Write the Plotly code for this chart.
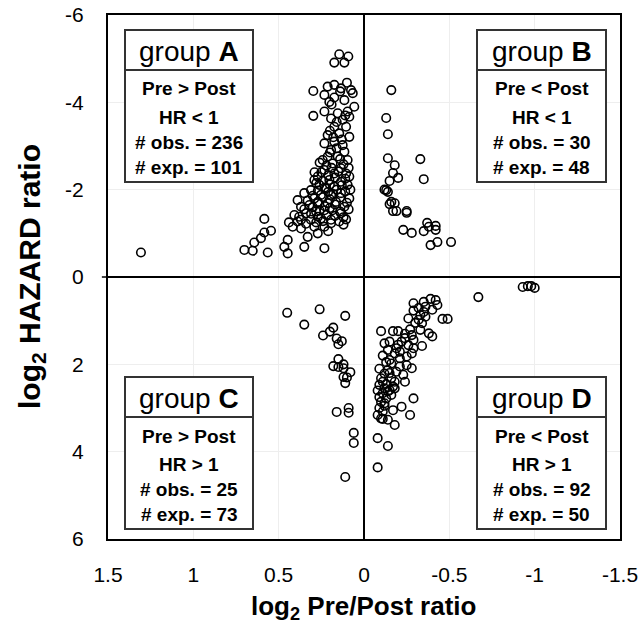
import plotly.graph_objects as go

# ---------------- data (log2 Pre/Post ratio, log2 HAZARD ratio) ----------------
a_x = [0.145, 0.092, 0.174, 0.115, 0.297, 0.213, 0.174, 0.135, 0.076, 0.232, 0.174, 0.115,
       0.066, 0.057, 0.203, 0.096, 0.154, 0.193, 0.125, 0.086, 0.297, 0.232, 0.174, 0.105,
       0.145, 0.213, 0.086, 0.232, 0.174, 0.125, 0.193, 0.115, 0.213, 0.154, 0.096, 0.242,
       0.184, 0.135, 0.105, 0.232, 0.174, 0.086, 0.271, 0.203, 0.135, 0.096, 0.262, 0.291,
       0.174, 0.223, 0.311, 0.350, 0.252, 0.193, 0.135, 0.086, 0.291, 0.389, 0.369, 0.320,
       0.271, 0.213, 0.164, 0.115, 0.340, 0.281, 0.232, 0.184, 0.135, 0.408, 0.369, 0.311,
       0.252, 0.193, 0.145, 0.105, 0.418, 0.369, 0.291, 0.232, 0.193, 0.330, 0.271, 0.447,
       0.467, 0.350, 0.232, 0.447, 0.389,
       0.584, 0.545, 0.584, 0.604, 0.643, 0.701, 0.652, 0.564, 1.307,
       0.16, 0.20, 0.14, 0.22, 0.12, 0.19, 0.25, 0.15, 0.21, 0.11, 0.17, 0.24, 0.28, 0.13,
       0.20, 0.23, 0.16, 0.27, 0.11, 0.21, 0.18, 0.30, 0.24, 0.14, 0.20, 0.33, 0.27, 0.10,
       0.17, 0.23, 0.30, 0.35, 0.20, 0.26, 0.14, 0.31, 0.22, 0.38, 0.17, 0.27, 0.12, 0.34,
       0.24, 0.44, 0.21, 0.18, 0.13, 0.20, 0.16, 0.11, 0.19, 0.14, 0.10, 0.26, 0.29, 0.09,
       0.09, 0.08, 0.12, 0.28]
a_y = [-5.10, -5.05, -4.91, -4.91, -4.26, -4.36, -4.40, -4.32, -4.28, -4.17, -4.11, -4.05,
       -4.21, -3.90, -4.01, -3.79, -3.75, -3.63, -3.60, -3.67, -3.69, -3.79, -3.44, -3.44,
       -3.29, -3.25, -3.21, -3.06, -3.10, -3.02, -2.91, -2.87, -2.76, -2.76, -2.68, -2.68,
       -2.60, -2.49, -2.37, -2.45, -2.37, -2.30, -2.30, -2.22, -2.18, -2.11, -2.11, -2.22,
       -2.07, -2.03, -1.99, -1.92, -1.88, -1.88, -1.92, -1.80, -1.80, -1.76, -1.61, -1.65,
       -1.69, -1.69, -1.72, -1.61, -1.46, -1.50, -1.53, -1.53, -1.46, -1.42, -1.31, -1.31,
       -1.34, -1.31, -1.27, -1.32, -1.15, -1.11, -1.15, -1.15, -1.23, -0.92, -1.00, -0.85,
       -0.69, -0.69, -0.66, -0.54, -1.27,
       -1.33, -1.06, -1.02, -0.89, -0.79, -0.62, -0.60, -0.56, -0.56,
       -2.95, -2.85, -2.70, -2.55, -2.58, -2.50, -2.40, -2.42, -2.33, -2.25, -2.28, -2.20,
       -2.15, -2.10, -2.12, -2.05, -2.00, -1.98, -1.96, -1.95, -1.90, -1.86, -1.83, -1.82,
       -1.78, -1.75, -1.72, -1.70, -1.66, -1.62, -1.60, -1.55, -1.58, -1.52, -1.50, -1.45,
       -1.42, -1.38, -1.40, -1.38, -1.37, -1.22, -1.28, -1.25, -1.05, -3.20, -3.15, -3.35,
       -3.55, -3.70, -3.95, -4.25, -4.45, -2.62, -2.40, -2.50, -1.55, -2.00, -1.20, -1.25]

b_x = [-0.16, -0.13, -0.14, -0.14, -0.18, -0.33, -0.17, -0.20, -0.15, -0.35, -0.13, -0.14,
       -0.16, -0.15, -0.18, -0.17, -0.19, -0.25, -0.25, -0.23, -0.28, -0.35, -0.37, -0.42,
       -0.42, -0.38, -0.39, -0.43, -0.51, -0.12]
b_y = [-4.28, -3.64, -3.27, -2.72, -2.56, -2.70, -2.38, -2.27, -2.20, -2.24, -1.99, -1.95,
       -1.72, -1.67, -1.69, -1.51, -1.51, -1.51, -1.47, -1.08, -1.01, -1.05, -1.24, -1.17,
       -1.08, -1.15, -0.73, -0.80, -0.80, -2.00]

c_x = [0.45, 0.26, 0.11, 0.35, 0.18, 0.20, 0.24, 0.16, 0.13, 0.15, 0.15, 0.18, 0.15, 0.12,
       0.08, 0.12, 0.11, 0.16, 0.09, 0.09, 0.06, 0.06, 0.11, 0.12, 0.10]
c_y = [0.82, 0.74, 0.89, 1.09, 1.16, 1.25, 1.34, 1.41, 1.47, 1.54, 1.88, 2.04, 2.06, 2.09,
       2.18, 2.29, 2.43, 3.09, 3.00, 3.11, 3.57, 3.80, 4.58, 2.00, 2.30]

d_x = [-0.93, -0.96, -0.98, -1.00, -0.67, -0.46, -0.49,
       -0.29, -0.35, -0.39, -0.43, -0.32, -0.36, -0.40, -0.29, -0.33, -0.36, -0.32, -0.34,
       -0.33, -0.38, -0.40, -0.35, -0.42,
       -0.10, -0.17, -0.20, -0.27, -0.28, -0.24, -0.22, -0.29, -0.15, -0.12, -0.14, -0.19,
       -0.21, -0.26, -0.29, -0.34, -0.28, -0.25, -0.21, -0.18, -0.16, -0.21, -0.25, -0.28,
       -0.14, -0.12, -0.19, -0.23, -0.24, -0.16, -0.11, -0.18, -0.09, -0.12, -0.15, -0.17,
       -0.11, -0.13, -0.16, -0.10, -0.12, -0.29, -0.22, -0.17, -0.11, -0.08, -0.10, -0.14,
       -0.18, -0.27, -0.08, -0.14, -0.08,
       -0.11, -0.13, -0.09, -0.15, -0.10, -0.13, -0.08, -0.14, -0.09, -0.12, -0.09, -0.15,
       -0.20, -0.24, -0.18, -0.11, -0.30, -0.26]
d_y = [0.23, 0.21, 0.21, 0.25, 0.46, 0.96, 0.96,
       0.60, 0.57, 0.50, 0.64, 0.71, 0.68, 0.75, 0.77, 0.87, 0.91, 0.98, 1.06,
       1.21, 1.29, 1.36, 0.80, 0.53,
       1.24, 1.24, 1.24, 1.20, 1.33, 1.40, 1.48, 1.44, 1.48, 1.52, 1.67, 1.63,
       1.71, 1.56, 1.63, 1.58, 1.75, 1.82, 1.86, 1.75, 1.98, 2.05, 2.02, 2.09,
       2.13, 2.21, 2.17, 2.24, 2.40, 2.32, 2.40, 2.40, 2.47, 2.55, 2.59, 2.51,
       2.66, 2.78, 2.70, 2.86, 2.89, 2.78, 2.97, 3.05, 3.08, 3.16, 3.24, 3.27,
       3.39, 3.16, 3.69, 3.87, 4.36,
       1.80, 1.95, 2.10, 2.20, 2.32, 2.45, 2.60, 2.62, 2.75, 2.95, 3.00, 1.90,
       1.55, 1.30, 2.55, 3.25, 1.05, 0.95]

x_ticks = [1.5, 1, 0.5, 0, -0.5, -1, -1.5]
x_tick_text = ["1.5", "1", "0.5", "0", "-0.5", "-1", "-1.5"]
y_ticks = [-6, -4, -2, 0, 2, 4, 6]
y_tick_text = ["-6", "-4", "-2", "0", "2", "4", "6"]

box_letters = ["A", "B", "C", "D"]
box_rel = ["Pre &gt; Post", "Pre &lt; Post", "Pre &gt; Post", "Pre &lt; Post"]
box_hr = ["HR &lt; 1", "HR &lt; 1", "HR &gt; 1", "HR &gt; 1"]
box_obs = [236, 30, 25, 92]
box_exp = [101, 48, 73, 50]

# ---------------- figure ----------------
FONT = "Liberation Sans, Arial, sans-serif"
fig = go.Figure()
for xs, ys in [(a_x, a_y), (b_x, b_y), (c_x, c_y), (d_x, d_y)]:
    fig.add_trace(go.Scatter(
        x=xs, y=ys, mode="markers", showlegend=False, hoverinfo="skip",
        marker=dict(symbol="circle-open", size=8.5, color="black", line=dict(width=1.6, color="black")),
    ))

# the page's default body margin is removed (see post_script), so the figure fills the window
W, H = 644, 632
PL, PR, PT, PB = 108, 620, 15, 539          # plot frame in screen pixels
L, T = PL, PT
R, B = W - PR, H - PB
PW, PH = PR - PL, PB - PT


def px2x(p):
    return (p - PL) / PW


def py2y(p):
    return (PB - p) / PH


# box geometry in screen pixels: left, right, top, separator, bottom
boxes_px = [
    (125, 253, 30, 70, 182),
    (477, 606, 30, 70, 182),
    (125, 253, 377, 417, 529),
    (477, 606, 377, 417, 529),
]
shapes = []
annotations = []
for i, (bl, br, bt, bs, bb) in enumerate(boxes_px):
    shapes.append(dict(type="rect", xref="paper", yref="paper",
                       x0=px2x(bl), x1=px2x(br), y0=py2y(bb), y1=py2y(bt),
                       line=dict(color="#333333", width=2), fillcolor="white", layer="above"))
    shapes.append(dict(type="line", xref="paper", yref="paper",
                       x0=px2x(bl), x1=px2x(br), y0=py2y(bs), y1=py2y(bs),
                       line=dict(color="#333333", width=2), layer="above"))
    cx = px2x((bl + br) / 2)
    annotations.append(dict(xref="paper", yref="paper", x=cx, y=py2y(bt + 21),
                            xanchor="center", yanchor="middle", showarrow=False,
                            text="group <b>%s</b>" % box_letters[i],
                            font=dict(family=FONT, size=28, color="black")))
    lines = [box_rel[i], box_hr[i], "# obs. = %d" % box_obs[i], "# exp. = %d" % box_exp[i]]
    for j, (txt, off) in enumerate(zip(lines, [59, 87, 112, 137])):
        annotations.append(dict(xref="paper", yref="paper", x=cx, y=py2y(bt + off),
                                xanchor="center", yanchor="middle", showarrow=False,
                                text="<b>%s</b>" % txt,
                                font=dict(family=FONT, size=19, color="black")))

# small tick at y = 0 left of frame
shapes.append(dict(type="line", xref="paper", yref="y", x0=-0.012, x1=0, y0=0, y1=0,
                   line=dict(color="black", width=1.5)))

annotations.append(dict(xref="paper", yref="paper", x=px2x(363), y=py2y(607),
                        xanchor="center", yanchor="middle", showarrow=False,
                        text="<b>log<sub>2</sub> Pre/Post ratio</b>",
                        font=dict(family=FONT, size=26, color="black")))
annotations.append(dict(xref="paper", yref="paper", x=px2x(31), y=py2y(277),
                        xanchor="center", yanchor="middle", showarrow=False, textangle=-90,
                        text="<b>log<sub>2</sub> HAZARD ratio</b>",
                        font=dict(family=FONT, size=30, color="black")))

fig.update_layout(
    template="none",
    width=W, height=H,
    margin=dict(l=L, r=R, t=T, b=B, pad=0),
    paper_bgcolor="white", plot_bgcolor="white",
    font=dict(family=FONT, size=21, color="black"),
    shapes=shapes, annotations=annotations,
    xaxis=dict(range=[1.5, -1.5], autorange=False, automargin=False,
               tickvals=x_ticks, ticktext=x_tick_text, ticklabeloverflow="allow",
               showgrid=True, gridcolor="#eeeeee", gridwidth=1,
               zeroline=True, zerolinecolor="black", zerolinewidth=2,
               showline=True, mirror=True, linecolor="black", linewidth=2,
               ticks="", ticklabelstandoff=16, tickfont=dict(family=FONT, size=21, color="black")),
    yaxis=dict(range=[6, -6], autorange=False, automargin=False,
               tickvals=y_ticks, ticktext=y_tick_text, ticklabeloverflow="allow",
               showgrid=True, gridcolor="#eeeeee", gridwidth=1,
               zeroline=True, zerolinecolor="black", zerolinewidth=2,
               showline=True, mirror=True, linecolor="black", linewidth=2,
               ticks="", ticklabelstandoff=18, tickfont=dict(family=FONT, size=21, color="black")),
)

fig.write_html("out.html", config={"displayModeBar": False, "staticPlot": True},
               post_script="document.body.style.margin='0px'; document.body.style.overflow='hidden';")
